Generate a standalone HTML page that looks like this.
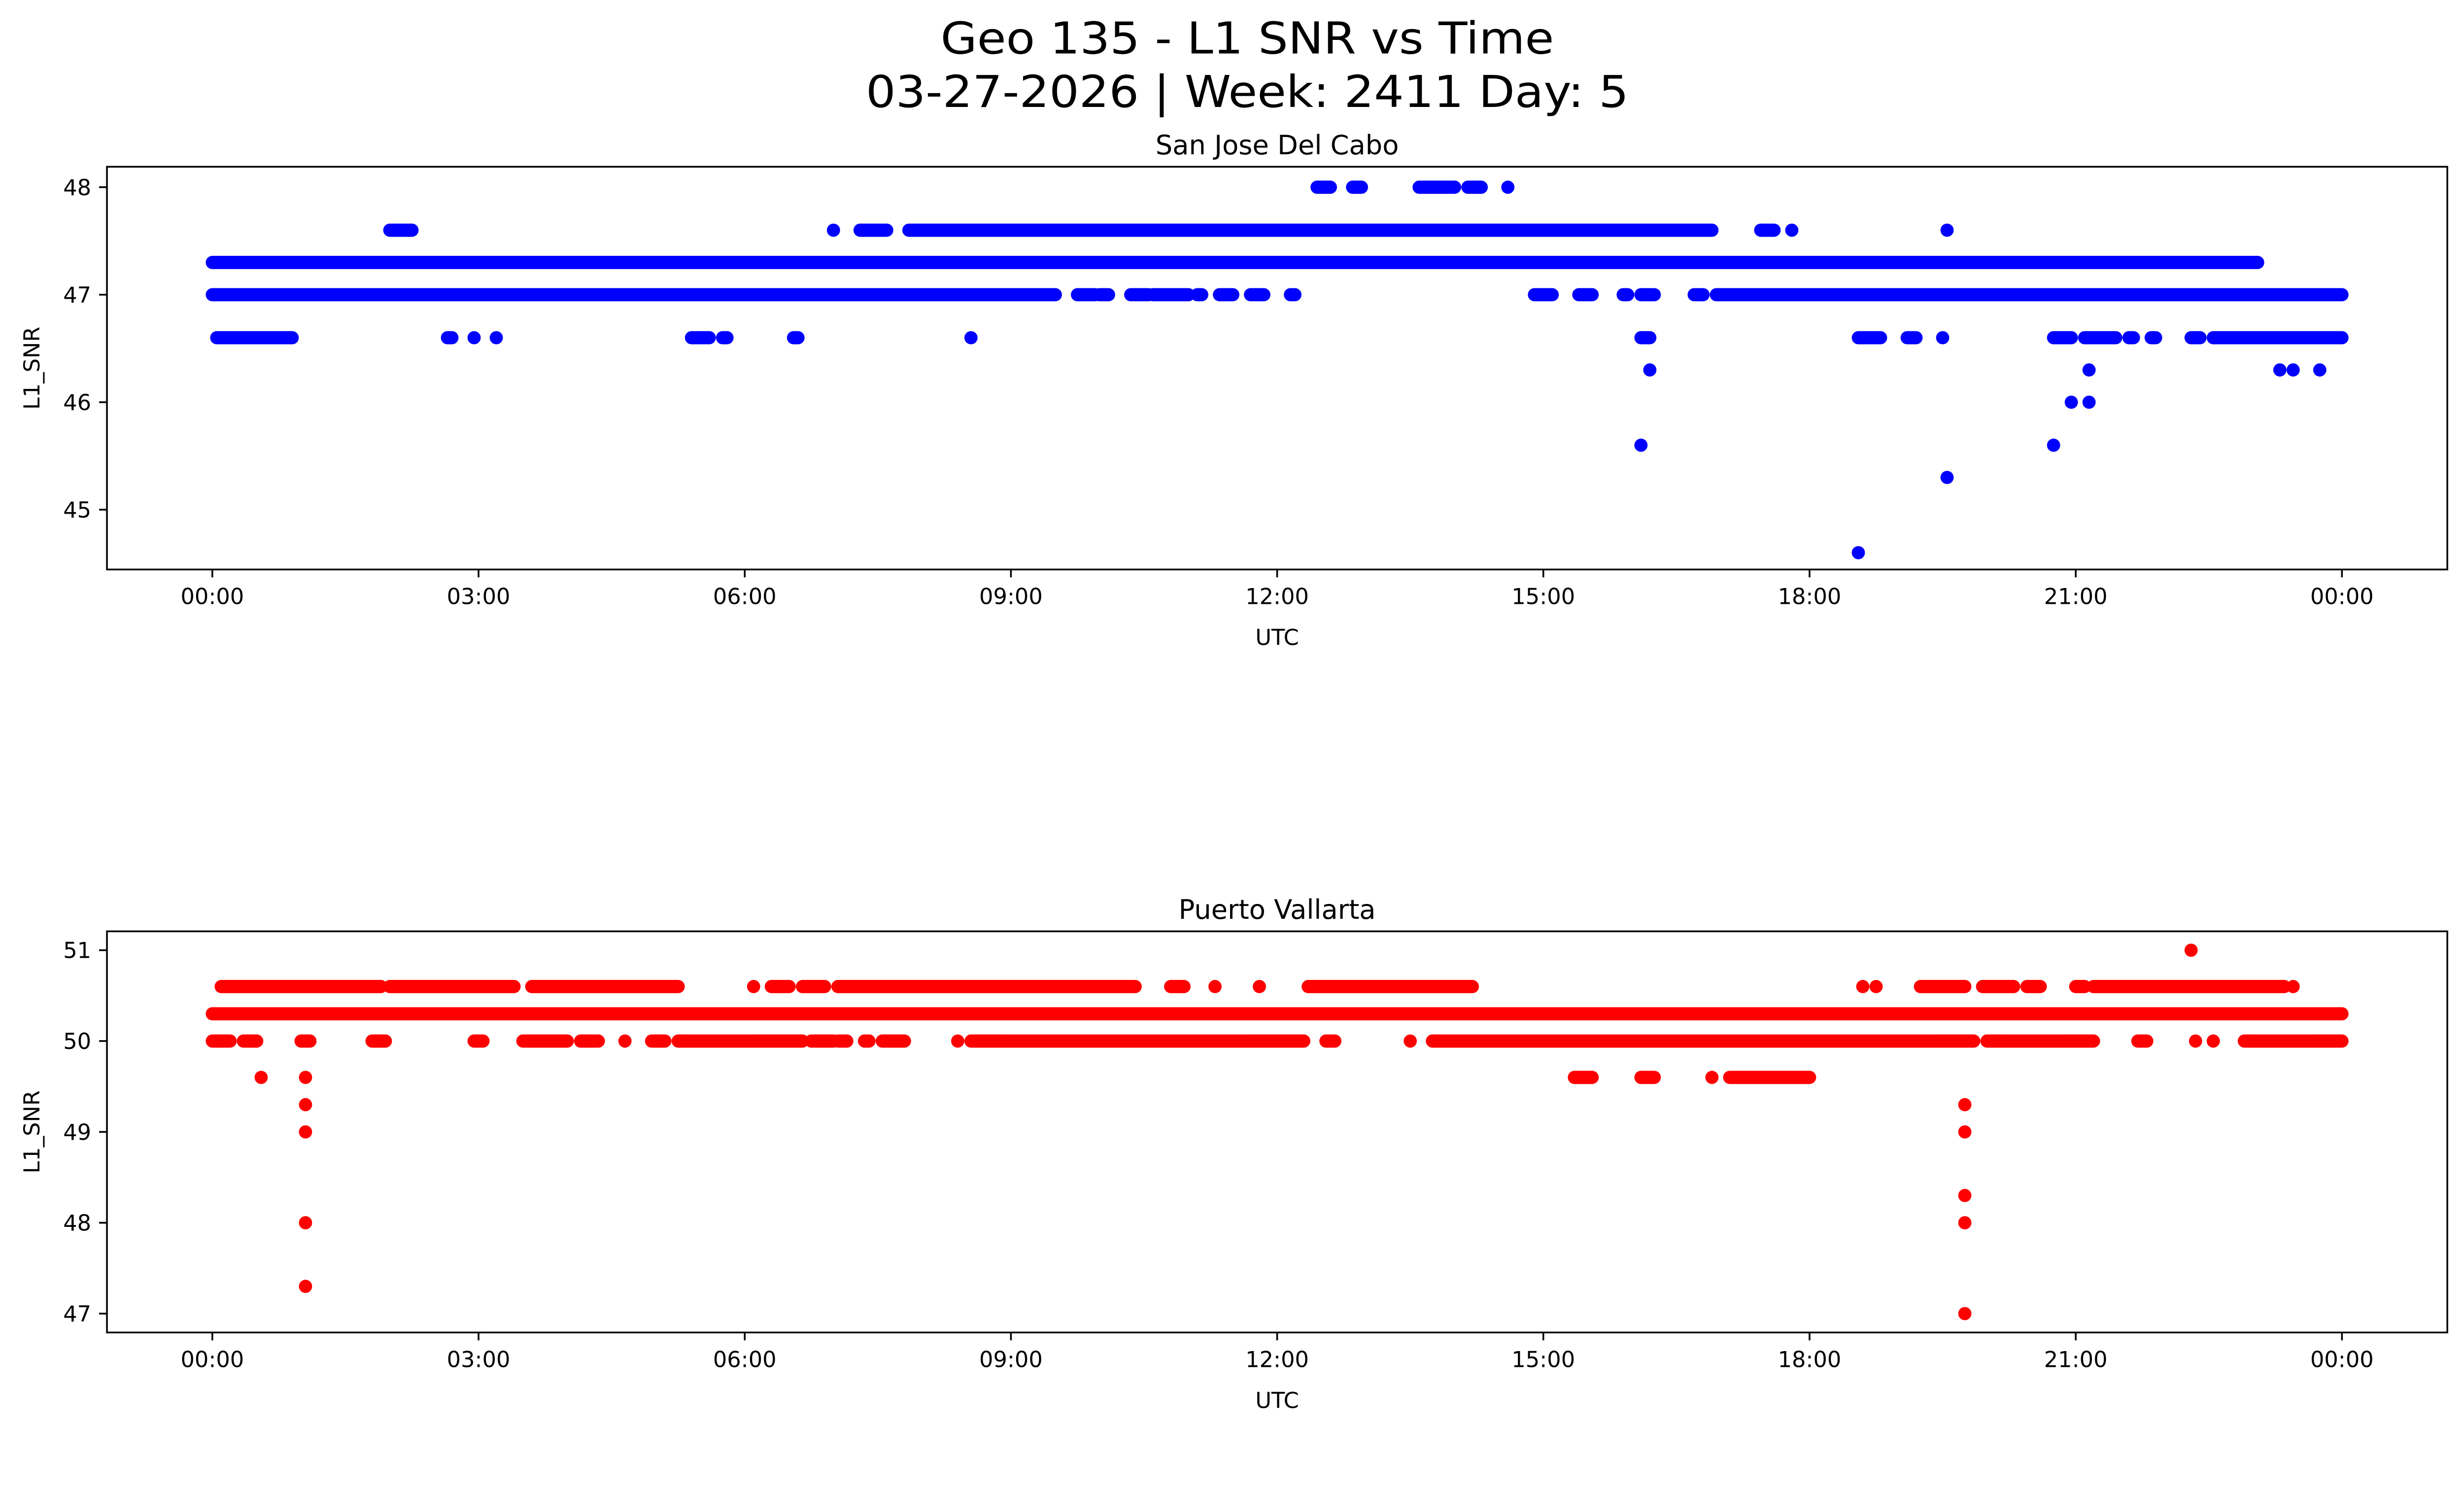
<!DOCTYPE html>
<html><head><meta charset="utf-8">
<style>html,body{margin:0;padding:0;background:#fff;overflow:hidden;}svg{display:block;}</style>
</head><body>
<svg id="fig" xmlns="http://www.w3.org/2000/svg" width="5225" height="3033" viewBox="0 0 1637 950.3" preserveAspectRatio="xMinYMin meet" font-family="'DejaVu Sans','Liberation Sans',sans-serif">
<rect width="1637" height="951" fill="#fff"/>
<text x="793" y="34" font-size="28" text-anchor="middle" textLength="390" lengthAdjust="spacingAndGlyphs">Geo 135 - L1 SNR vs Time</text>
<text x="793" y="68" font-size="28" text-anchor="middle" textLength="485" lengthAdjust="spacingAndGlyphs">03-27-2026 | Week: 2411 Day: 5</text>
<g id="p1"></g>
<g id="p2"></g>
</svg>
<script>
// x tick labels (hours)
const tickHours = [0,3,6,9,12,15,18,21,24];
const tickLabels = ["00:00","03:00","06:00","09:00","12:00","15:00","18:00","21:00","00:00"];
// San Jose Del Cabo: runs [startHour, endHour, SNR]
const sjRuns = [
 [0,23.05,47.3],
 [0,9.5,47],[9.75,9.95,47],[10.0,10.1,47],[10.35,10.55,47],[10.6,11.0,47],[11.1,11.15,47],[11.35,11.5,47],[11.7,11.85,47],[12.15,12.2,47],
 [14.9,15.1,47],[15.4,15.55,47],[15.9,15.95,47],[16.1,16.25,47],[16.7,16.8,47],[16.95,24.0,47],
 [2.0,2.25,47.6],[7.0,7.0,47.6],[7.3,7.6,47.6],[7.85,16.9,47.6],[17.45,17.6,47.6],[17.8,17.8,47.6],[19.55,19.55,47.6],
 [12.45,12.6,48],[12.85,12.95,48],[13.6,14.0,48],[14.15,14.3,48],[14.6,14.6,48],
 [0.05,0.9,46.6],[2.65,2.7,46.6],[2.95,2.95,46.6],[3.2,3.2,46.6],[5.4,5.6,46.6],[5.75,5.8,46.6],[6.55,6.6,46.6],[8.55,8.55,46.6],
 [16.1,16.2,46.6],[18.55,18.8,46.6],[19.1,19.2,46.6],[19.5,19.5,46.6],[20.75,20.95,46.6],[21.1,21.45,46.6],[21.6,21.65,46.6],[21.85,21.9,46.6],[22.3,22.4,46.6],[22.55,24.0,46.6]
];
const sjPointHours = [16.2,21.15,23.3,23.45,23.75,20.95,21.15,16.1,20.75,19.55,18.55];
const sjPointValues = [46.3,46.3,46.3,46.3,46.3,46.0,46.0,45.6,45.6,45.3,44.6];
const sjYTicks = [45,46,47,48];
// Puerto Vallarta
const pvRuns = [
 [0,24,50.3],
 [0.1,1.9,50.6],[2.0,3.4,50.6],[3.6,5.25,50.6],[6.1,6.1,50.6],[6.3,6.5,50.6],[6.65,6.9,50.6],[7.05,10.4,50.6],[10.8,10.95,50.6],[11.3,11.3,50.6],[11.8,11.8,50.6],
 [12.35,14.2,50.6],[18.6,18.6,50.6],[18.75,18.75,50.6],[19.25,19.75,50.6],[19.95,20.3,50.6],[20.45,20.6,50.6],[21.0,21.1,50.6],[21.2,23.35,50.6],[23.45,23.45,50.6],
 [0,0.2,50],[0.35,0.5,50],[1.0,1.1,50],[1.8,1.95,50],[2.95,3.05,50],[3.5,4.0,50],[4.15,4.35,50],[4.65,4.65,50],[4.95,5.1,50],[5.25,6.65,50],[6.75,7.0,50],[7.05,7.15,50],
 [7.35,7.4,50],[7.55,7.8,50],[8.4,8.4,50],[8.55,12.3,50],[12.55,12.65,50],[13.5,13.5,50],[13.75,19.85,50],[20.0,21.2,50],[21.7,21.8,50],[22.35,22.35,50],[22.55,22.55,50],[22.9,24.0,50],
 [0.55,0.55,49.6],[1.05,1.05,49.6],[15.35,15.55,49.6],[16.1,16.25,49.6],[16.9,16.9,49.6],[17.1,18.0,49.6]
];
const pvPointHours = [22.3,1.05,19.75,1.05,19.75,19.75,1.05,19.75,1.05,19.75];
const pvPointValues = [51,49.3,49.3,49.0,49.0,48.3,48.0,48.0,47.3,47.0];
const pvYTicks = [47,48,49,50,51];

const NS = "http://www.w3.org/2000/svg";
function mk(tag, attrs, parent){const e=document.createElementNS(NS,tag);for(const k in attrs)e.setAttribute(k,attrs[k]);parent.appendChild(e);return e;}
const xScale = h => 135 + (1489-135)*h/24;

function panel(g, top, bottom, yScale, runs, ph, pv, yTicks, color, title){
  const t = mk('text',{x:812,y:top-8,'font-size':17,'text-anchor':'middle'},g);
  
  
  t.textContent = title;
  runs.forEach(r=>{
    const l = mk('line',{x1:xScale(r[0]),x2:xScale(r[1]),y1:yScale(r[2]),y2:yScale(r[2]),stroke:color,'stroke-width':8.4,'stroke-linecap':'round'},g);
    
    
  });
  ph.forEach((h,i)=>{
    const c = mk('circle',{cx:xScale(h),cy:yScale(pv[i]),r:4.2,fill:color},g);
    
    
  });
  const fr = mk('rect',{x:68,y:top,width:1488,height:bottom-top,fill:'none',stroke:'#000','stroke-width':1.1},g);
  
  
  tickHours.forEach((h,i)=>{
    const x=xScale(h);
    mk('line',{x1:x,x2:x,y1:bottom,y2:bottom+5,stroke:'#000','stroke-width':1.1},g);
    const tl = mk('text',{x:x,y:bottom+22,'font-size':14,'text-anchor':'middle'},g);
    
    
    tl.textContent = tickLabels[i];
  });
  yTicks.forEach(v=>{
    const y=yScale(v);
    mk('line',{x1:63,x2:68,y1:y,y2:y,stroke:'#000','stroke-width':1.1},g);
    const tl = mk('text',{x:58,y:y+5,'font-size':14,'text-anchor':'end'},g);
    
    
    tl.textContent = v;
  });
  const xl = mk('text',{x:812,y:bottom+48,'font-size':14,'text-anchor':'middle'},g);
  
  
  xl.textContent='UTC';
  const cy=(top+bottom)/2;
  const yl = mk('text',{x:25,y:cy,'font-size':14,'text-anchor':'middle',transform:`rotate(-90 25 ${cy})`},g);
  
  
  yl.textContent='L1_SNR';
}
panel(document.getElementById('p1'),106,362,v=>119+(48-v)*68.33,sjRuns,sjPointHours,sjPointValues,sjYTicks,'#0000ff','San Jose Del Cabo');
panel(document.getElementById('p2'),592,847,v=>604+(51-v)*57.75,pvRuns,pvPointHours,pvPointValues,pvYTicks,'#ff0000','Puerto Vallarta');
</script>
</body></html>
